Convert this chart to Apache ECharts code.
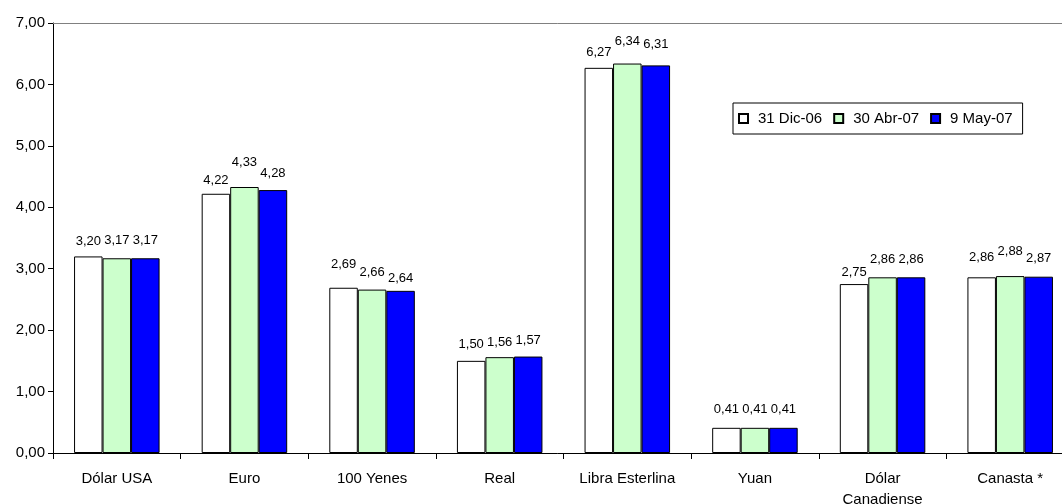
<!DOCTYPE html>
<html>
<head>
<meta charset="utf-8">
<script src="https://cdn.jsdelivr.net/npm/echarts@6/dist/echarts.min.js"></script>
<style>
  html, body { margin: 0; padding: 0; background: #ffffff; }
  #chart { width: 1062px; height: 504px; }
</style>
</head>
<body>
<div id="chart"></div>
<script>
// Tipos de cambio por moneda (S/. por unidad)
const categories = ['Dólar USA', 'Euro', '100 Yenes', 'Real', 'Libra Esterlina', 'Yuan', 'Dólar\nCanadiense', 'Canasta *'];
const seriesNames = ['31 Dic-06', '30 Abr-07', '9 May-07'];
const dic06 = [3.20, 4.22, 2.69, 1.50, 6.27, 0.41, 2.75, 2.86];
const abr07 = [3.17, 4.33, 2.66, 1.56, 6.34, 0.41, 2.86, 2.88];
const may07 = [3.17, 4.28, 2.64, 1.57, 6.31, 0.41, 2.86, 2.87];
const yTicks = [0, 1, 2, 3, 4, 5, 6, 7];

// Extra vertical lift (px) for each value label, staggered so neighbours don't collide
const labelLift = [
  [0, -2, 8, 1, 0, 3, -4, 4],
  [2, 9, 2, -1, 7, 3, 2, 9],
  [2, 1, -3, 1, 5, 3, 2, 3]
];

const FONT = 'Arial, "Liberation Sans", sans-serif';
const fmt = v => v.toFixed(2).replace('.', ',');
const colors = ['#ffffff', '#ccffcc', '#0000ff'];
const values = [dic06, abr07, may07];

const chart = echarts.init(document.getElementById('chart'), null, { renderer: 'canvas' });

const series = values.map((vals, s) => ({
  name: seriesNames[s],
  type: 'bar',
  xAxisIndex: 0,
  barGap: '0%',
  barCategoryGap: '33%',
  itemStyle: { color: colors[s], borderColor: '#000000', borderWidth: 1 },
  label: {
    show: true,
    position: 'top',
    distance: 9,
    fontFamily: FONT,
    fontSize: 13,
    color: '#000000',
    formatter: p => fmt(p.value)
  },
  data: vals.map((v, i) => ({
    value: v,
    label: { offset: [0, -labelLift[s][i]] }
  }))
}));

chart.setOption({
  animation: false,
  backgroundColor: '#ffffff',
  textStyle: { fontFamily: FONT },
  grid: { left: 53, top: 23, width: 1021, height: 430, containLabel: false, outerBoundsMode: 'none' },
  legend: {
    data: seriesNames,
    left: 733,
    top: 103,
    orient: 'horizontal',
    backgroundColor: '#ffffff',
    borderColor: '#000000',
    borderWidth: 1,
    padding: [8, 10, 8, 5],
    itemWidth: 9,
    itemHeight: 9,
    itemGap: 11,
    icon: 'rect',
    textStyle: { fontFamily: FONT, fontSize: 15, color: '#000000', padding: [0, 0, 0, 5] }
  },
  xAxis: [
    {
      type: 'category',
      data: categories,
      position: 'bottom',
      axisLine: { show: true, lineStyle: { color: '#000000', width: 1 } },
      axisTick: { show: true, alignWithLabel: false, length: 6, lineStyle: { color: '#000000' } },
      axisLabel: {
        interval: 0,
        margin: 15,
        fontFamily: FONT,
        fontSize: 15,
        lineHeight: 21,
        color: '#000000',
        verticalAlign: 'top'
      },
      splitLine: { show: false }
    },
    {
      type: 'category',
      data: categories,
      position: 'top',
      axisLine: { show: true, lineStyle: { color: '#808080', width: 1 } },
      axisTick: { show: false },
      axisLabel: { show: false },
      splitLine: { show: false }
    }
  ],
  yAxis: {
    type: 'value',
    min: yTicks[0],
    max: yTicks[yTicks.length - 1],
    interval: 1,
    axisLine: { show: true, lineStyle: { color: '#000000', width: 1 } },
    axisTick: { show: true, length: 5, lineStyle: { color: '#000000' } },
    axisLabel: {
      margin: 8,
      fontFamily: FONT,
      fontSize: 15,
      color: '#000000',
      formatter: v => fmt(v)
    },
    splitLine: { show: false }
  },
  series: series
});
</script>
</body>
</html>
